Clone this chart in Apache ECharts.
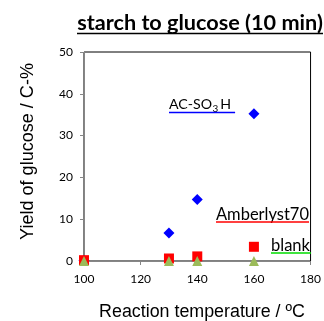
<!DOCTYPE html>
<html><head><meta charset="utf-8">
<script src="https://cdn.jsdelivr.net/npm/echarts@6/dist/echarts.min.js"></script>
<style>html,body{margin:0;padding:0;background:#fff}#c{width:324px;height:321px}</style>
</head><body><div id="c"></div>
<script>
const temps = [100, 130, 140, 160];
const acSO3H = [0.1, 6.7, 14.7, 35.2];
const amberlyst70 = [0.2, 0.6, 1.1, 3.4];
const blank = [0, 0, 0, 0];
const xTicks = [100, 120, 140, 160, 180];
const yTicks = [0, 10, 20, 30, 40, 50];

const pairs = a => temps.map((t, i) => [t, a[i]]);
const mctx = document.createElement('canvas').getContext('2d');
function fit(text, family, weight, w) {
  mctx.font = weight + ' 100px ' + family;
  return 100 * w / mctx.measureText(text).width;
}
function width(text, family, size) {
  mctx.font = 'normal ' + size + 'px ' + family;
  return mctx.measureText(text).width;
}
const F = '"Liberation Sans", Arial, sans-serif';
const L = 'Lato, "Open Sans", sans-serif';
const title = 'starch to glucose (10 min)';
const xName = 'Reaction temperature / ºC';
const yName = 'Yield of glucose / C-%';
const tSize = fit(title, L, 'bold', 246);
const xnSize = fit(xName, F, 'normal', 206);
const ynSize = fit(yName, F, 'normal', 177);
const amSize = fit('Amberlyst70', L, 'normal', 93);
const acSize = amSize * 0.86;
const blSize = fit('blank', L, 'normal', 39);
const acX = 169;
const x3 = acX + width('AC-SO', L, acSize) + 0.5;
const xH = x3 + width('3', L, acSize * 0.7) + 2;
const acEnd = xH + width('H', L, acSize);

const chart = echarts.init(document.getElementById('c'));
chart.setOption({
  animation: false,
  grid: {left: 84, right: 11, top: 52, bottom: 60, show: true, borderColor: '#000', borderWidth: 1},
  xAxis: {
    type: 'value', min: xTicks[0], max: xTicks[xTicks.length - 1], interval: 20,
    axisLine: {show: true, lineStyle: {color: '#868686', width: 1}},
    axisTick: {show: true, length: 4, lineStyle: {color: '#868686'}},
    splitLine: {show: false},
    axisLabel: {color: '#000', fontSize: 12, fontFamily: L, margin: 12}
  },
  yAxis: {
    type: 'value', min: yTicks[0], max: yTicks[yTicks.length - 1], interval: 10,
    axisLine: {show: true, lineStyle: {color: '#868686', width: 1}},
    axisTick: {show: true, length: 4, lineStyle: {color: '#868686'}},
    splitLine: {show: false},
    axisLabel: {color: '#000', fontSize: 12, fontFamily: L, margin: 11}
  },
  series: [
    {type: 'scatter', name: 'AC-SO3H', data: pairs(acSO3H), symbol: 'diamond', symbolSize: 11,
     itemStyle: {color: '#0000FF', opacity: 1}},
    {type: 'scatter', name: 'Amberlyst70', data: pairs(amberlyst70), symbol: 'rect', symbolSize: 10,
     itemStyle: {color: '#FF0000', opacity: 1}},
    {type: 'scatter', name: 'blank', data: pairs(blank), symbol: 'triangle', symbolSize: 10,
     itemStyle: {color: '#9BBB59', opacity: 1}}
  ],
  graphic: [
    {type: 'text', x: 200, y: 23, style: {text: title, fontSize: tSize, fontWeight: 'bold', fontFamily: L, fill: '#000', align: 'center', verticalAlign: 'middle'}},
    {type: 'line', shape: {x1: 77, y1: 33.5, x2: 323, y2: 33.5}, style: {stroke: '#000', lineWidth: 1.5}},
    {type: 'text', x: 202, y: 312, style: {text: xName, fontSize: xnSize, fontFamily: F, fill: '#000', align: 'center', verticalAlign: 'middle'}},
    {type: 'text', x: 28, y: 151.5, rotation: Math.PI / 2, style: {text: yName, fontSize: ynSize, fontFamily: F, fill: '#000', align: 'center', verticalAlign: 'middle'}},
    {type: 'text', x: acX, y: 104.5, style: {text: 'AC-SO', fontSize: acSize, fontFamily: L, fill: '#000', verticalAlign: 'middle'}},
    {type: 'text', x: x3, y: 109, style: {text: '3', fontSize: acSize * 0.7, fontFamily: L, fill: '#000', verticalAlign: 'middle'}},
    {type: 'text', x: xH, y: 104.5, style: {text: 'H', fontSize: acSize, fontFamily: L, fill: '#000', verticalAlign: 'middle'}},
    {type: 'line', shape: {x1: acX, y1: 112.5, x2: Math.max(232, acEnd + 4), y2: 112.5}, style: {stroke: '#0000FF', lineWidth: 1.5}},
    {type: 'text', x: 216, y: 214.5, style: {text: 'Amberlyst70', fontSize: amSize, fontFamily: L, fill: '#000', verticalAlign: 'middle'}},
    {type: 'line', shape: {x1: 216, y1: 222, x2: 309, y2: 222}, style: {stroke: '#FF0000', lineWidth: 1.5}},
    {type: 'text', x: 271, y: 246, style: {text: 'blank', fontSize: blSize, fontFamily: L, fill: '#000', verticalAlign: 'middle'}},
    {type: 'line', shape: {x1: 271, y1: 253, x2: 311, y2: 253}, style: {stroke: '#00DD00', lineWidth: 1.5}}
  ]
});
</script></body></html>
